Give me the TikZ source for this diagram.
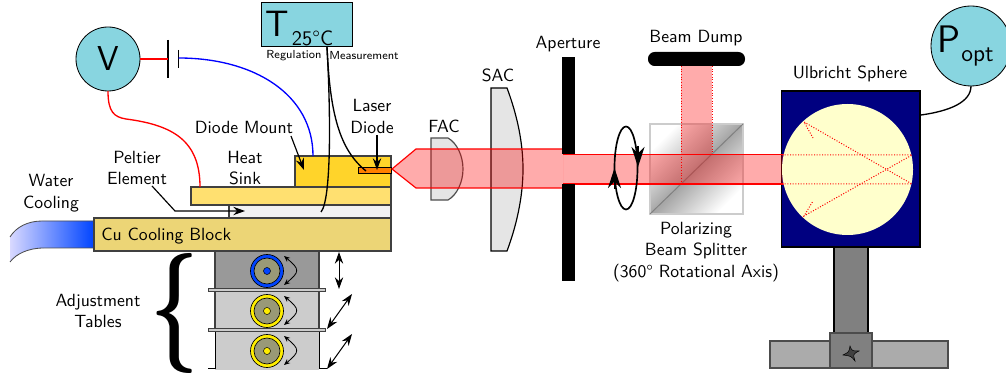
\documentclass[tikz,border=0pt]{standalone}
\usepackage{tikz}
\usetikzlibrary{arrows.meta,positioning}

\definecolor{meterblue}{HTML}{88D5E0}
\definecolor{mountyellow}{HTML}{FFD42A}
\definecolor{sinkyellow}{HTML}{FFE070}
\definecolor{cublock}{HTML}{ECD576}
\definecolor{knobolive}{HTML}{999977}
\definecolor{knobblue}{HTML}{0044FF}
\definecolor{knobyellow}{HTML}{FFEE00}
\definecolor{spherein}{HTML}{FFFFCC}
\definecolor{navybox}{HTML}{000080}

\tikzset{
	label text/.style={font=\sffamily\fontsize{10.6}{13}\selectfont,align=center,inner sep=0pt},
	slab/.style 2 args={draw=black!75,line width=.7pt,inner sep=0pt,outer sep=0pt,minimum width=#1*.6pt,minimum height=#2*.6pt},
	meter/.style={circle,draw=black,fill=meterblue,line width=.5pt,inner sep=0pt,outer sep=0pt,minimum size=#1*.6pt},
	knob/.style={circle,draw=black,fill=#1,line width=.4pt,inner sep=0pt,outer sep=0pt,minimum size=33*.6pt},
	knobin/.style={circle,draw=black,fill=knobolive,line width=.4pt,inner sep=0pt,outer sep=0pt,minimum size=26*.6pt},
	knobdot/.style={circle,draw=black,fill=#1,line width=.3pt,inner sep=0pt,outer sep=0pt,minimum size=7*.6pt},
	beam/.style={fill=red,fill opacity=.33,draw=red,draw opacity=1,line width=.7pt},
	ray/.style={red,densely dotted,line width=.6pt},
	turn/.style={{Stealth[length=3.6pt,width=3pt]}-{Stealth[length=3.6pt,width=3pt]},line width=.5pt},
	fat/.style={-{Stealth[length=20*.6pt,width=13*.6pt]},line width=.8pt},
	>={Stealth[length=7pt,width=5pt]}
}

\begin{document}
\begin{tikzpicture}[x=.6pt,y=-.6pt,node distance=24pt,on grid]
\useasboundingbox (0,0) rectangle (1006,374);
\clip (0,0) rectangle (1006,374);

% cooling water
\shade[left color=blue!15,right color=knobblue]
	(10,237) .. controls (16,227) and (28,221) .. (42,221) -- (94,221) -- (94,248) -- (44,248)
	.. controls (28,248) and (16,254) .. (10,262) -- cycle;
\draw[black!70,line width=.5pt] (10,237) .. controls (16,227) and (28,221) .. (42,221) -- (94,221);
\draw[black!70,line width=.5pt] (94,248) -- (44,248) .. controls (28,248) and (16,254) .. (10,262);

% mount stack
\node[slab={297}{33},fill=cublock] (Cu_Block) at (242.5,234.5) {};
\node[slab={162}{13},fill=black!5] (Peltier) at (310,211.5) {};
\node[slab={200}{18},fill=sinkyellow] (Sink) at (291,196) {};
\node[slab={96}{31},fill=mountyellow] (Mount) at (343,171.5) {};
\node[slab={32.5}{6},fill=orange,draw=black,line width=.5pt] (Diode) at (375,170.5) {};
\node[label text,anchor=west] (Cu_Label) at (101,236) {Cu Cooling Block};

% tables
\node[slab={104}{39},fill=black!40] (Table_1) at (267,270.5) {};
\node[slab={104}{39},fill=black!20] (Table_2) [below=24pt of Table_1] {};
\fill[black!20] (215,331) rectangle (319,370);
\draw[black,line width=.6pt] (208,369) -- (215,369) -- (215,331) (327,369) -- (319,369) -- (319,331);
\node[slab={117}{3},fill=black!20,line width=.4pt] (Flange_1) at (266.5,289.5) {};
\node[slab={117}{3},fill=black!20,line width=.4pt] (Flange_2) [below=24pt of Flange_1] {};
\node[knob=knobblue] (Knob_1) at (267,271) {};
\node[knob=knobyellow] (Knob_2) [below=24pt of Knob_1] {};
\node[knob=knobyellow] (Knob_3) [below=24pt of Knob_2] {};
\node[knobin] (Olive_1) at (Knob_1) {};
\node[knobin] (Olive_2) at (Knob_2) {};
\node[knobin] (Olive_3) at (Knob_3) {};
\node[knobdot=knobblue] (Dot_1) at (Knob_1) {};
\node[knobdot=knobyellow] (Dot_2) at (Knob_2) {};
\node[knobdot=knobyellow] (Dot_3) at (Knob_3) {};

\coordinate (Turn_1a) at (284,256);
\coordinate (Turn_1b) at (284,285);
\coordinate (Turn_2a) at (284,296);
\coordinate (Turn_2b) at (284,325);
\coordinate (Turn_3a) at (284,336);
\coordinate (Turn_3b) at (284,365);
\coordinate (Lift_1a) at (339,252);
\coordinate (Lift_1b) at (339,289);
\coordinate (Lift_2a) at (352,294);
\coordinate (Lift_2b) at (327,329);
\coordinate (Lift_3a) at (352,334);
\coordinate (Lift_3b) at (327,369);
\path[turn]
	(Turn_1a) edge[out=-40,in=40,looseness=1.85] (Turn_1b)
	(Turn_2a) edge[out=-40,in=40,looseness=1.85] (Turn_2b)
	(Turn_3a) edge[out=-40,in=40,looseness=1.85] (Turn_3b);
\path[<->,line width=.6pt]
	(Lift_1a) edge (Lift_1b)
	(Lift_2a) edge (Lift_2b)
	(Lift_3a) edge (Lift_3b);
\node[inner sep=0pt] (Brace) at (174.5,313) {\resizebox*{29pt}{72pt}{\sffamily\bfseries\{}};

% meters and wires
\node[meter=64] (V) at (108,59) {\sffamily\huge V};
\coordinate (Cell_a) at (168,59);
\coordinate (Cell_b) at (178.5,58);
\coordinate (Cell_a1) at (168,40);
\coordinate (Cell_a2) at (168,78);
\coordinate (Cell_b1) at (178.5,50);
\coordinate (Cell_b2) at (178.5,68);
\draw[line width=.7pt] (Cell_a1) -- (Cell_a2) (Cell_b1) -- (Cell_b2);
\draw[red,line width=.8pt] (V) -- (Cell_a);
\coordinate (Sink_in) at (200,187);
\coordinate (Mount_in) at (313,156);
\draw[red,line width=.8pt] (V.south) .. controls (108,112) and (114,117) .. (126,119)
	.. controls (172,125) and (200,140) .. (Sink_in);
\draw[blue,line width=.8pt] (Cell_b) .. controls (255,58) and (313,95) .. (Mount_in);

\node[rectangle,draw=black,fill=meterblue,line width=.6pt,inner sep=0pt,minimum width=91*.6pt,minimum height=44*.6pt] (T_box) at (306.5,25) {};
\node[inner sep=0pt] (T_big) at (277.5,24) {\sffamily\fontsize{22}{24}\selectfont T};
\node[inner sep=0pt] (T_val) at (312.5,38.5) {\sffamily\fontsize{12.5}{14}\selectfont 25\textdegree C};
\node[inner sep=0pt,font=\sffamily\scriptsize] (Reg) at (294,56) {Regulation};
\node[inner sep=0pt,font=\sffamily\scriptsize] (Meas) at (364,56) {Measurement};
\coordinate (Wire_out) at (327,47);
\coordinate (Peltier_probe) at (321,212);
\coordinate (Diode_probe) at (366,171);
\draw[line width=.8pt] (Wire_out) .. controls (331,120) and (331,200) .. (Peltier_probe);
\draw[line width=.8pt] (Wire_out) .. controls (330,115) and (340,150) .. (Diode_probe);

% labels
\node[label text] (Water) at (51,193) {Water\\Cooling};
\node[label text] (Element) at (137,168) {Peltier\\Element};
\node[label text] (Sink_Label) at (245,168) {Heat\\Sink};
\node[label text] (Mount_Label) at (244,127) {Diode Mount};
\node[label text] (Diode_Label) at (372,116.5) {Laser\\Diode};
\node[label text] (FAC) at (444,126) {FAC};
\node[label text] (SAC) at (498,75) {SAC};
\node[label text] (Aperture) at (568,44) {Aperture};
\node[label text] (Dump_Label) at (696,38) {Beam Dump};
\node[label text] (Ulbricht) at (850,74) {Ulbricht Sphere};
\node[label text] (PBS) at (696,252) {Polarizing\\Beam Splitter\\(360\textdegree{} Rotational Axis)};
\node[label text] (Tables) at (98,311) {Adjustment\\Tables};

% label arrows
\coordinate (Mount_tip) at (304,170);
\coordinate (Mount_from) at (291,136);
\coordinate (Diode_from) at (377,135);
\coordinate (Diode_tip) at (377,170);
\coordinate (Element_from) at (152,186);
\coordinate (Element_bend) at (175,211);
\coordinate (Element_tip) at (245,211);
\draw[->,line width=.7pt] (Mount_from) -- (Mount_tip);
\draw[->,line width=.7pt] (Diode_from) -- (Diode_tip);
\draw[->,line width=.7pt] (Element_from) -- (Element_bend) -- (Element_tip);

% lenses
\draw[fill=black!10,draw=black!70,line width=.7pt] (431,138) -- (448,138) .. controls (457,143) and (463,156) .. (463,169)
	.. controls (463,182) and (457,195) .. (448,200) -- (431,200) -- cycle;
\draw[fill=black!10,line width=.7pt] (491,88) -- (507,88) .. controls (516,112) and (523,140) .. (523,169)
	.. controls (523,198) and (516,227) .. (507,251) -- (491,251) -- cycle;

% splitter cube
\shade[top color=white,bottom color=white,middle color=black!35,shading angle=45] (650,124) rectangle (743,214);
\draw[black!20,line width=.7pt] (650,124) rectangle (743,214);
\draw[black!50,line width=.6pt] (650,214) -- (743,124);

% sphere
\node[slab={138.5}{156},fill=navybox,draw=black] (Sphere_box) at (850.75,169) {};

% beam
\fill[red,opacity=.33] (681,66) rectangle (712,154);
\draw[beam] (563,149) -- (416,149) -- (392,169) -- (416,188) -- (563,188);
\draw[beam] (563,154.5) -- (785,154.5) -- (785,184) -- (563,184);
\node[circle,fill=spherein,inner sep=0pt,outer sep=0pt,minimum size=131*.6pt] (Sphere) at (847.5,169.5) {};
\draw[ray] (681,66) -- (681,184) (712,66) -- (712,154);
\draw[ray] (782,155) -- (912,155) -- (804,216) -- (813,201);
\draw[ray] (782,184) -- (912,184) -- (804,122) -- (813,138);

% aperture and dump
\fill (562,57) rectangle (575,154);
\fill (562,184) rectangle (575,281);
\node[fill=black,rounded corners=4pt,inner sep=0pt,minimum width=97*.6pt,minimum height=14*.6pt] (Dump) at (696.5,59) {};

% rotation mark
\draw[line width=1pt] (626,168) ellipse [x radius=11.5,y radius=41.5];
\coordinate (Rot_a) at (638,146);
\coordinate (Rot_b) at (638,167);
\coordinate (Rot_c) at (614.5,189);
\coordinate (Rot_d) at (614.5,168);
\draw[fat] (Rot_a) -- (Rot_b);
\draw[fat] (Rot_c) -- (Rot_d);

% support
\node[slab={34}{86},fill=black!50,draw=black] (Post) at (851,290) {};
\node[slab={178}{27},fill=black!33,draw=black!70] (Base) at (859,354.5) {};
\node[slab={42}{35},fill=black!50,draw=black!70] (Clamp) at (851,350.5) {};
\filldraw[fill=black!75,draw=black,line width=.3pt] (850,346) .. controls (852,351) .. (859,351) .. controls (853,354) .. (855,361)
	.. controls (851,356) .. (843,355) .. controls (849,352) .. (850,346) -- cycle;

% optical power meter
\node[meter=80] (P) at (971,46) {};
\node[inner sep=0pt,anchor=base west] (P_big) at (937,53) {\sffamily\fontsize{23}{25}\selectfont P};
\node[inner sep=0pt,anchor=base west] (P_sub) at (961,62) {\sffamily\fontsize{14.4}{16}\selectfont opt};
\coordinate (Sphere_out) at (921,115);
\draw[line width=.8pt] (P.south) .. controls (971,102) and (950,111) .. (Sphere_out);
\end{tikzpicture}
\end{document}
